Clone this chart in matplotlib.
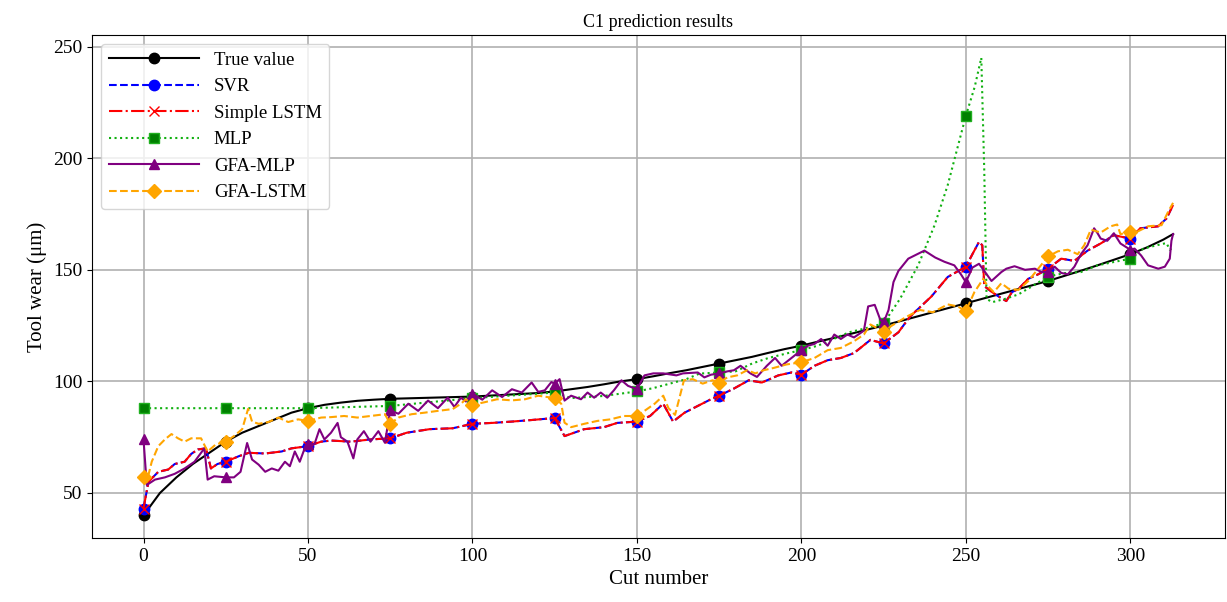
import matplotlib
matplotlib.use("Agg")
import matplotlib.pyplot as plt

plt.rcParams["font.family"] = ["Liberation Serif", "DejaVu Serif"]

# true tool wear (smooth curve)
true_x = [0, 5, 10, 15, 20, 25, 30, 35, 40, 45, 50, 55, 60, 65, 70, 75, 80, 85, 90, 95,
          100, 105, 110, 115, 120, 125, 130, 135, 140, 145, 150, 155, 160, 165, 170, 175,
          180, 185, 190, 195, 200, 205, 210, 215, 220, 225, 230, 235, 240, 245, 250, 255,
          260, 265, 270, 275, 280, 285, 290, 295, 300, 305, 310, 313]
true_y = [40, 50, 57, 63, 68, 73, 77, 80, 83, 86, 88, 89.5, 90.5, 91.3, 91.8, 92.2, 92.4,
          92.6, 92.8, 93, 93.2, 93.6, 94, 94.4, 94.8, 95.5, 96.5, 97.5, 98.7, 100, 101,
          102.3, 103.7, 105, 106.5, 108, 109.5, 111, 112.8, 114.5, 116, 117.8, 119.5, 121.3,
          123.2, 125, 127, 129, 131, 133, 135, 137, 139, 141, 143, 145, 147.3, 149.6, 152,
          154.5, 157, 160, 163.5, 166]

# SVR and Simple LSTM overlap almost exactly in the picture
svr_x = [0, 1.5, 4.5, 7.5, 9.5, 12.5, 14.5, 16.5, 19, 20.5, 22.5, 25, 29, 32, 37, 42, 45,
         50, 54, 57, 63, 69, 75, 80, 87, 94, 100, 106, 112, 118, 125, 128, 134, 140, 144,
         150, 154, 158, 161, 164.5, 168.5, 172.5, 175, 179.5, 184, 188, 193, 197, 200, 204,
         208, 212, 216, 221, 225, 229.5, 233, 239.5, 244.5, 250, 252, 254, 255, 255.6, 258,
         260, 262.3, 264, 266, 269, 272, 275, 279, 283, 287, 291, 295, 300, 303, 308.5,
         311, 313]
svr_y = [43, 55, 59.5, 60.5, 63, 64, 67.5, 69.5, 70, 61, 63, 64, 66.5, 68, 67.7, 68.6, 70,
         71, 73, 73.5, 73, 74, 74.5, 77, 78.6, 79, 81, 81.4, 82, 82.7, 83.6, 75.5, 78.6,
         79.5, 81.4, 82, 84.5, 90, 82, 86, 89, 92, 93.6, 96.8, 100.5, 99.5, 102.7, 104, 103,
         107, 109.5, 110.5, 112.7, 118.6, 117, 122, 129, 138, 146.8, 151.4, 157, 162.5, 161,
         142.7, 140, 138, 136, 140, 141.4, 146, 148, 150.5, 155, 154, 158.6, 161.8, 165.5,
         164, 168.6, 169.5, 173, 179]
lstm_x = list(svr_x)
lstm_y = list(svr_y)

mlp_x = [0, 25, 50, 75, 100, 125, 130, 140, 150, 155, 160, 165, 169, 175, 180, 185, 190,
         196, 200, 205, 209, 214.5, 219, 225, 230, 235.5, 240.5, 244.5, 250, 252.7, 254.7,
         255.6, 256.3, 258, 262, 266, 270, 275, 280, 285, 290, 295, 300, 304, 308, 311, 312,
         313]
mlp_y = [88, 88, 88, 89, 92.5, 95, 92.5, 93.5, 95.5, 97, 99, 101, 103.5, 104, 104.5, 108,
         110.5, 112.7, 114, 116, 118.5, 122, 123.6, 126, 137, 152, 170, 188, 219, 232, 245,
         194.5, 137, 135.5, 137, 139, 142.5, 147, 148.5, 149, 152, 153.5, 155, 159.5, 161,
         162, 159, 160]

gfa_mlp_x = [0, 1, 3.5, 6.5, 9.5, 12.5, 15.5, 18.5, 19.5, 21.5, 25, 27.5, 29.5, 31.5, 33,
             35, 37, 39, 41, 43, 44.5, 46, 47.5, 49, 50, 52, 53.5, 55, 57, 59, 60, 62, 63.8,
             65, 67, 69, 71.4, 73.4, 75, 77.5, 80.5, 83.5, 86.5, 89.5, 92.5, 94.5, 96.5, 98,
             100, 103, 106, 109, 112, 115, 118, 120, 122, 124, 125, 126.5, 128, 130, 133,
             135, 137, 139, 141, 143, 145.3, 147.3, 150, 152.3, 155, 158, 162, 164, 168.5,
             170.5, 172.5, 175, 177.5, 179.5, 181.5, 184.5, 186.5, 189.5, 192, 194, 197,
             200, 202, 204, 206, 208, 210, 212, 214, 216, 219, 220.3, 222.3, 224, 225,
             226.5, 228, 229.5, 232.5, 237.4, 240.7, 243.5, 246.5, 248.5, 250, 252, 254,
             255.6, 257.8, 260.8, 262.3, 264.8, 268, 271, 273, 275, 277, 279, 281, 283, 285,
             287, 289, 290, 291, 293, 295, 297, 300, 301.3, 303.3, 305.4, 308.5, 310.5, 312,
             312.5, 313]
gfa_mlp_y = [74, 53.6, 56, 57, 58.6, 61, 64, 70, 56, 57.5, 57, 57, 59.5, 72.4, 65, 62.7,
             59.5, 61, 60, 64, 62, 68.6, 64, 70, 71.8, 72, 78.6, 74, 77, 81.4, 75, 73, 65.5,
             74, 77.7, 73, 77.7, 72.5, 87, 85.5, 90, 86.8, 91.4, 88, 92.7, 88.6, 92.7, 91,
             94.5, 91.8, 96, 93, 96.5, 95, 99.5, 95.3, 96, 99.7, 99, 101, 91.4, 93.6, 92, 95,
             92.7, 95, 92.7, 96, 100.5, 98, 96.5, 102.7, 103.6, 103.6, 102.7, 103.6, 104,
             101.8, 103, 103.6, 104.5, 105, 107, 103.6, 102, 107, 110.5, 107, 110.5, 114,
             116, 116.8, 119, 116, 121, 119, 121, 119.7, 122.7, 133.6, 134.3, 127.6, 126.4,
             132, 144.5, 149.5, 155, 158.6, 155.5, 153.6, 152, 148, 144.5, 151, 152.7, 149.5,
             145, 149, 150.5, 151.6, 150, 150.5, 149, 149, 151.4, 148.6, 148, 151.4, 157,
             161, 168.6, 166.5, 164, 163, 166.4, 161.8, 159, 159.5, 156.4, 152, 150.5, 151.4,
             155, 163, 166]

gfa_lstm_x = [0, 1, 2.5, 4.5, 6.5, 8.5, 10.5, 12.5, 14.5, 17.5, 19.5, 22, 25, 27.5, 30,
              31.8, 33, 35, 38, 41, 44, 47, 50, 54, 57, 61, 65, 69, 73.4, 75, 77.5, 81.5,
              85.5, 89.5, 94, 96.5, 98, 100, 103.5, 107.5, 112, 116, 120, 125, 127, 128, 130,
              134, 138, 142, 146, 150, 152.3, 155.4, 158, 159.6, 161.6, 163, 164.3, 167, 170,
              173, 175, 177.5, 180.5, 183.5, 186, 188.5, 191.5, 195.5, 200, 204, 208, 212,
              216, 219, 221, 225, 227.5, 232, 236, 240, 244.5, 247.5, 250, 252.6, 255.3,
              256.5, 258.5, 260.8, 263, 266, 269, 272, 275, 278, 281, 284, 286, 288, 291, 294,
              296, 297, 300, 302, 305.4, 309.5, 311.5, 313]
gfa_lstm_y = [57, 55, 64, 71, 74, 76.4, 74.5, 73, 74.5, 74.5, 68.6, 71.8, 73, 75.5, 78.6,
              87.7, 82, 81, 81.8, 83.8, 81.8, 83, 82.3, 83.8, 84, 84.5, 83.8, 84.5, 85.3, 81,
              83.8, 85.3, 86, 86.8, 87.6, 90, 92, 89.5, 90.6, 92, 91.5, 92, 93.6, 92.5, 90,
              81.5, 79.5, 81, 82.3, 83, 84.5, 84.5, 86.8, 90, 93.6, 88, 85, 93, 100.5, 101, 99,
              100.5, 99.5, 101.8, 102.7, 105, 103.6, 105, 106, 107.6, 108.6, 110.5, 114, 115,
              118, 121, 125.5, 122.3, 125, 129, 132, 131, 134.5, 133.6, 131.5, 140, 146, 143,
              140, 144, 141.5, 141, 145, 150.5, 156, 158.3, 159, 157, 161, 168, 166.7, 169.5,
              170.3, 166, 167, 167, 169.5, 170, 176, 180]


def marks(xs):
    # markers sit on every 25th cut
    return [i for i, v in enumerate(xs) if v % 25 == 0]


fig, ax = plt.subplots(figsize=(12.27, 6.02), dpi=100)
fig.subplots_adjust(left=0.075, right=0.998, top=0.942, bottom=0.106)

ax.plot(true_x, true_y, color="black", linestyle="-", marker="o", markersize=7.5,
        linewidth=1.5, markevery=marks(true_x), label="True value")
ax.plot(svr_x, svr_y, color="blue", linestyle="--", marker="o", markersize=7.5,
        linewidth=1.5, markevery=marks(svr_x), label="SVR")
ax.plot(lstm_x, lstm_y, color="red", linestyle="-.", marker="x", markersize=7.5,
        linewidth=1.5, markevery=marks(lstm_x), label="Simple LSTM")
ax.plot(mlp_x, mlp_y, color="#10b010", linestyle=":", marker="s", markersize=7.5,
        markerfacecolor="green", markeredgecolor="#20b020", linewidth=1.5,
        markevery=marks(mlp_x), label="MLP")
ax.plot(gfa_mlp_x, gfa_mlp_y, color="purple", linestyle="-", marker="^", markersize=7.5,
        linewidth=1.5, markevery=marks(gfa_mlp_x), label="GFA-MLP")
ax.plot(gfa_lstm_x, gfa_lstm_y, color="orange", linestyle="--", marker="D", markersize=7.5,
        linewidth=1.5, markevery=marks(gfa_lstm_x), label="GFA-LSTM")

ax.set_title("C1 prediction results", fontsize=13)
ax.set_xlabel("Cut number", fontsize=15)
ax.set_ylabel("Tool wear (μm)", fontsize=15)
ax.tick_params(labelsize=14)
ax.grid(True, color="#b0b0b0", linewidth=1.2)
ax.legend(loc="upper left", fontsize=13.5, handlelength=4.8, labelspacing=0.5)

fig.savefig("out.png")
